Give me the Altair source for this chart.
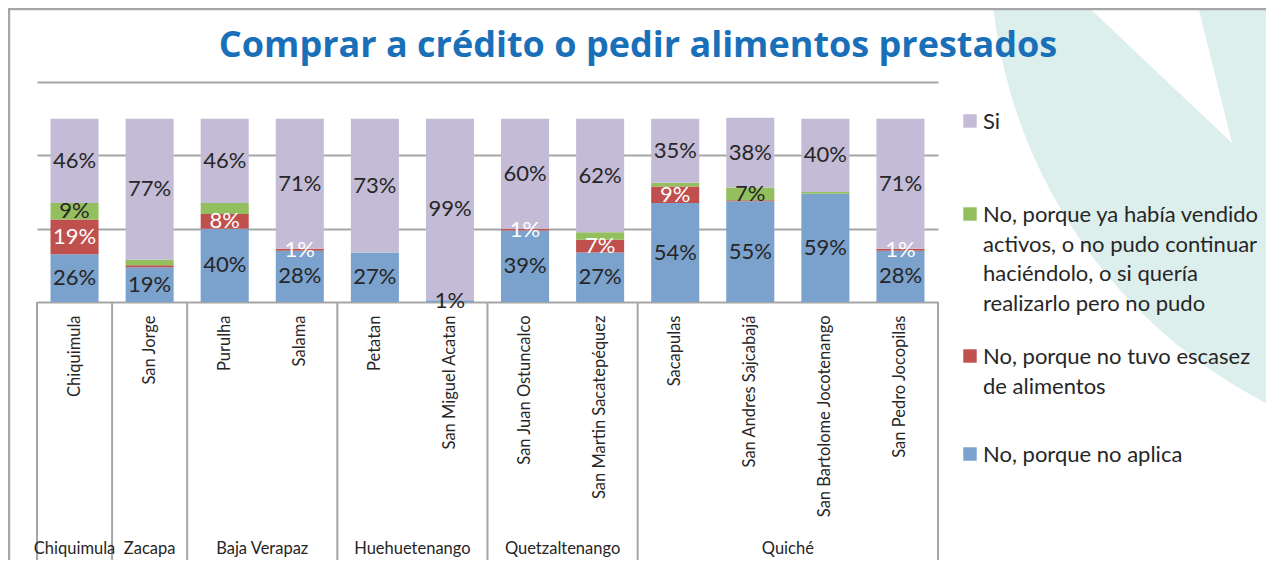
import altair as alt
import pandas as pd

# ---------------- data ----------------
munis = ["Chiquimula", "San Jorge", "Purulha", "Salama", "Petatan", "San Miguel Acatan",
         "San Juan Ostuncalco", "San Martin Sacatepéquez", "Sacapulas", "San Andres Sajcabajá",
         "San Bartolome Jocotenango", "San Pedro Jocopilas"]
depts = ["Chiquimula", "Zacapa", "Baja Verapaz", "Baja Verapaz", "Huehuetenango", "Huehuetenango",
         "Quetzaltenango", "Quetzaltenango", "Quiché", "Quiché", "Quiché", "Quiché"]

no_aplica = [26, 19, 40, 28, 27, 1, 39, 27, 54, 55, 59, 28]
no_escasez = [19, 1, 8, 1, 0, 0, 1, 7, 9, 0.5, 0, 1]
ya_vendido = [9, 3, 6, 0, 0, 0, 0, 4, 2, 7, 1, 0]
si = [46, 77, 46, 71, 73, 99, 60, 62, 35, 38, 40, 71]

# which segment values are printed on the bars
show_aplica = [1, 1, 1, 1, 1, 1, 1, 1, 1, 1, 1, 1]
show_escasez = [1, 0, 1, 1, 0, 0, 1, 1, 1, 0, 0, 1]
show_vendido = [1, 0, 0, 0, 0, 0, 0, 0, 0, 1, 0, 0]
show_si = [1, 1, 1, 1, 1, 1, 1, 1, 1, 1, 1, 1]

series = ["No, porque no aplica",
          "No, porque no tuvo escasez de alimentos",
          "No, porque ya había vendido activos, o no pudo continuar haciéndolo, o si quería realizarlo pero no pudo",
          "Si"]
legend_text = ["No, porque no aplica",
               "No, porque no tuvo escasez\nde alimentos",
               "No, porque ya había vendido\nactivos, o no pudo continuar\nhaciéndolo, o si quería\nrealizarlo pero no pudo",
               "Si"]
colors = ["#7ba1cd", "#c0504d", "#93bf5f", "#c4bcd6"]
label_colors = ["#262626", "#ffffff", "#262626", "#262626"]

title_text = "Comprar a crédito o pedir alimentos prestados"

# ---------------- tables ----------------
vals = [no_aplica, no_escasez, ya_vendido, si]
shows = [show_aplica, show_escasez, show_vendido, show_si]
rows = []
for k, s in enumerate(series):
    for i, m in enumerate(munis):
        v = vals[k][i]
        rows.append({"muni": m, "dept": depts[i], "serie": s, "order": k,
                     "value": v / 100.0,
                     "label": (f"{v:g}%" if shows[k][i] else ""),
                     "tcolor": label_colors[k]})
df = pd.DataFrame(rows)

# department groups (boundaries in category units)
groups = []
for i, d in enumerate(depts):
    if groups and groups[-1]["dept"] == d:
        groups[-1]["end"] = i + 1
    else:
        groups.append({"dept": d, "start": i, "end": i + 1})
dept_df = pd.DataFrame(groups)
dept_df["center"] = (dept_df["start"] + dept_df["end"]) / 2
bounds_df = pd.DataFrame({"b": sorted(set(dept_df["start"]).union(set(dept_df["end"])))})

W, H = 901, 220
FONT = "Lato"
GRID = "#a6a6a6"
TXT = "#262626"

band_scale = alt.Scale(domain=munis, paddingInner=0.36, paddingOuter=0.18)
q_scale = alt.Scale(domain=[0, len(munis)], nice=False, zero=False)
y_scale = alt.Scale(domain=[0, 1.2], nice=False)

one = alt.Data(values=[{"a": 1}])

# background decoration
disk = alt.Chart(one).mark_arc(color="#dcefec", theta=0, theta2=6.2832, radius=510).encode(
    x=alt.value(1463), y=alt.value(-132))
wedge = alt.Chart(one).mark_arc(color="#ffffff", theta=5.47, theta2=6.04, radius=260).encode(
    x=alt.value(1195), y=alt.value(61))

# chart frame (top and left edges)
frame_top = alt.Chart(one).mark_rule(color=GRID, strokeWidth=2.5).encode(
    x=alt.value(-29), x2=alt.value(1240), y=alt.value(-73))
frame_left = alt.Chart(one).mark_rule(color=GRID, strokeWidth=2.5).encode(
    x=alt.value(-28), y=alt.value(-74), y2=alt.value(480))

title = alt.Chart(one).mark_text(font="Open Sans", fontSize=36, fontWeight="bold", color="#1a70b8",
                                 align="center", baseline="alphabetic").encode(
    x=alt.value(601), y=alt.value(-25), text=alt.value(title_text))

bars = alt.Chart(df).mark_bar().encode(
    x=alt.X("muni:N", scale=band_scale, sort=munis,
            axis=alt.Axis(title=None, labelAngle=-90, labelAlign="right", labelBaseline="middle",
                          labelFont=FONT, labelFontSize=16.5, labelColor=TXT, labelPadding=13,
                          ticks=False, tickSize=0, domain=False, labelLimit=400)),
    y=alt.Y("value:Q", stack="zero", scale=y_scale,
            axis=alt.Axis(values=[0, 0.2, 0.4, 0.6, 0.8, 1.0, 1.2], grid=True, gridColor=GRID,
                          gridWidth=2, labels=False, ticks=False, domain=False, title=None)),
    color=alt.Color("serie:N", scale=alt.Scale(domain=series, range=colors), legend=None),
    order=alt.Order("order:Q", sort="ascending"),
)

labels = alt.Chart(df).transform_stack(
    stack="value", groupby=["muni"], sort=[alt.SortField("order", order="ascending")], as_=["y0", "y1"]
).transform_calculate(
    mid="(datum.y0 + datum.y1) / 2"
).mark_text(font=FONT, fontSize=22, baseline="middle").encode(
    x=alt.X("muni:N", scale=band_scale, sort=munis, axis=None),
    y=alt.Y("mid:Q", scale=y_scale),
    text="label:N",
    color=alt.Color("tcolor:N", scale=None),
)

seps = alt.Chart(bounds_df).mark_rule(color=GRID, strokeWidth=2).encode(
    x=alt.X("b:Q", scale=q_scale, axis=None),
    y=alt.value(H), y2=alt.value(480),
)

dept_labels = alt.Chart(dept_df).mark_text(font=FONT, fontSize=16.5, color=TXT, baseline="middle").encode(
    x=alt.X("center:Q", scale=q_scale, axis=None),
    y=alt.value(467),
    text="dept:N",
)

# legend (drawn as text and squares, colours from the same colour scale)
leg_layers = []
leg_y = {"Si": 39, series[2]: 132, series[1]: 274, series[0]: 372}
for k, s in enumerate(series):
    ldf = pd.DataFrame({"serie": [s], "txt": [legend_text[k]]})
    yy = leg_y[s]
    sq = alt.Chart(ldf).mark_square(size=180, opacity=1).encode(
        x=alt.value(933), y=alt.value(yy),
        color=alt.Color("serie:N", scale=alt.Scale(domain=series, range=colors), legend=None))
    tx = alt.Chart(ldf).mark_text(font=FONT, fontSize=22, color=TXT, align="left",
                                  baseline="alphabetic", lineBreak="\n", lineHeight=29.5).encode(
        x=alt.value(946), y=alt.value(yy + 8), text="txt:N")
    leg_layers += [sq, tx]

chart = alt.layer(
    disk, wedge, frame_top, frame_left, title, bars, labels, seps, dept_labels, *leg_layers
).resolve_scale(
    x="independent"
).properties(
    width=W, height=H,
    padding={"left": 29, "top": 74, "right": 328, "bottom": 258},
    autosize=alt.AutoSizeParams(type="none"),
).configure_view(stroke=None)

chart.save("out.html", embed_options={"renderer": "svg", "actions": False})
